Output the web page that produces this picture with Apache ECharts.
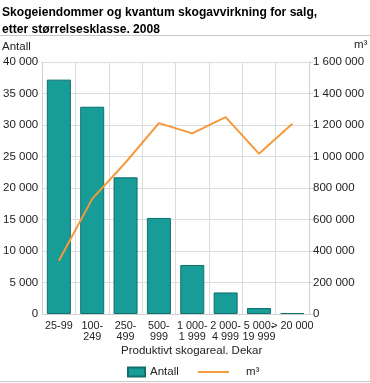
<!DOCTYPE html>
<html><head><meta charset="utf-8">
<script src="https://cdn.jsdelivr.net/npm/echarts@6/dist/echarts.min.js"></script>
<style>html,body{margin:0;padding:0;background:#fff}#c{width:370px;height:383px}</style>
</head><body><div id="c"></div>
<script>
const categories = ["25-99", "100-\n249", "250-\n499", "500-\n999", "1 000-\n1 999", "2 000-\n4 999", "5 000-\n19 999", "> 20 000"];
const antall = [37200, 32900, 21700, 15250, 7780, 3420, 950, 160];
const m3 = [338000, 731000, 962000, 1212000, 1147000, 1250000, 1018000, 1208000];
const leftTicks = {min: 0, max: 40000, interval: 5000};
const rightTicks = {min: 0, max: 1600000, interval: 200000};

const fmt = v => String(v).replace(/\B(?=(\d{3})+(?!\d))/g, ' ');
const font = 'Liberation Sans, Arial, sans-serif';
const chart = echarts.init(document.getElementById('c'));
chart.setOption({
  animation: false,
  textStyle: {fontFamily: font},
  grid: {left: 41, right: 61, top: 62, bottom: 69},
  graphic: [
    {type: 'text', left: 2, top: 4, style: {text: 'Skogeiendommer og kvantum skogavvirkning for salg,\netter størrelsesklasse. 2008', font: 'bold 12.1px ' + font, fill: '#000', lineHeight: 17}},
    {type: 'line', shape: {x1: 0, y1: 35.5, x2: 370, y2: 35.5}, style: {stroke: '#c8c8c8', lineWidth: 1}},
    {type: 'text', left: 2, top: 41, style: {text: 'Antall', font: '11.5px ' + font, fill: '#222'}},
    {type: 'text', left: 354, top: 39, style: {text: 'm³', font: '11.5px ' + font, fill: '#222'}},
    {type: 'text', left: 121, top: 345, style: {text: 'Produktivt skogareal. Dekar', font: '11.5px ' + font, fill: '#222'}},
    {type: 'line', shape: {x1: 0, y1: 381.5, x2: 370, y2: 381.5}, style: {stroke: '#c8c8c8', lineWidth: 1}}
  ],
  legend: [
    {data: ['Antall'], left: 127, top: 366, padding: 0, itemWidth: 17, itemHeight: 9, icon: 'rect',
     textStyle: {fontSize: 11.5, color: '#222', fontFamily: font}},
    {data: [{name: 'm³', icon: 'path://M0,0h32v2h-32z'}], left: 198, top: 366, padding: 0, itemWidth: 31, itemHeight: 2,
     textStyle: {fontSize: 11.5, color: '#222', fontFamily: font, padding: [0, 0, 0, 12]}}
  ],
  xAxis: {
    type: 'category', data: categories,
    axisLine: {show: true, lineStyle: {color: '#cfcfcf'}},
    axisTick: {show: false},
    axisLabel: {interval: 0, fontSize: 10.8, color: '#222', lineHeight: 11, margin: 7},
    splitLine: {show: true, lineStyle: {color: '#dcdcdc'}}
  },
  yAxis: [
    {type: 'value', min: leftTicks.min, max: leftTicks.max, interval: leftTicks.interval,
     axisLine: {show: true, lineStyle: {color: '#cfcfcf'}}, axisTick: {show: false},
     axisLabel: {formatter: fmt, fontSize: 11.5, color: '#222', margin: 4},
     splitLine: {show: true, lineStyle: {color: '#dcdcdc'}}},
    {type: 'value', min: rightTicks.min, max: rightTicks.max, interval: rightTicks.interval, position: 'right',
     axisLine: {show: true, lineStyle: {color: '#cfcfcf'}}, axisTick: {show: true, length: 4, lineStyle: {color: '#cfcfcf'}},
     axisLabel: {formatter: fmt, fontSize: 11.5, color: '#222', margin: 4},
     splitLine: {show: false}}
  ],
  series: [
    {name: 'Antall', type: 'bar', data: antall, barCategoryGap: '28%',
     itemStyle: {color: '#179c98', borderColor: '#0f706d', borderWidth: 1}},
    {name: 'm³', type: 'line', yAxisIndex: 1, data: m3, symbol: 'none',
     lineStyle: {color: '#f5993a', width: 2}, itemStyle: {color: '#f5993a'}}
  ]
});
</script></body></html>
